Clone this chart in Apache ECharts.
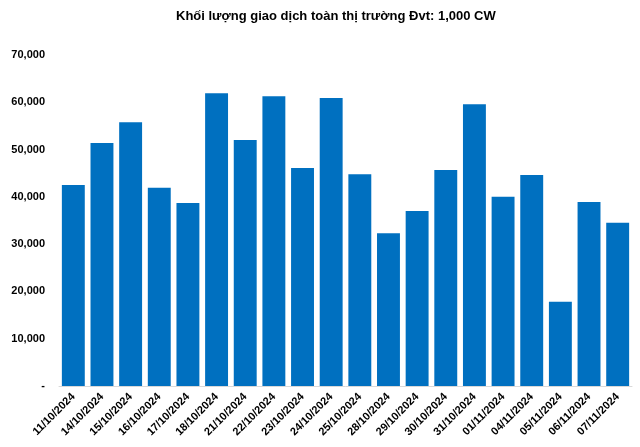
<!DOCTYPE html>
<html><head><meta charset="utf-8">
<script src="https://cdn.jsdelivr.net/npm/echarts@6/dist/echarts.min.js"></script>
<style>html,body{margin:0;padding:0;background:#fff}#c{width:640px;height:447px}</style>
</head><body><div id="c"></div>
<script>
const titleText = 'Khối lượng giao dịch toàn thị trường Đvt: 1,000 CW';
const categories = ['11/10/2024','14/10/2024','15/10/2024','16/10/2024','17/10/2024','18/10/2024','21/10/2024','22/10/2024','23/10/2024','24/10/2024','25/10/2024','28/10/2024','29/10/2024','30/10/2024','31/10/2024','01/11/2024','04/11/2024','05/11/2024','06/11/2024','07/11/2024'];
const volumes = [42500,51400,55800,41900,38700,61900,52000,61300,46100,60900,44800,32300,37000,45700,59600,40000,44600,17800,38900,34500];

const chart = echarts.init(document.getElementById('c'));
chart.setOption({
  animation:false,
  title:{text:titleText,left:171,top:5,textStyle:{fontFamily:'Liberation Sans, Arial',fontSize:13,fontWeight:'bold',color:'#000'}},
  grid:{left:59,right:8,top:55,bottom:61},
  xAxis:{type:'category',data:categories,
    axisLine:{lineStyle:{color:'#d9d9d9'}},axisTick:{show:false},
    axisLabel:{rotate:45,interval:0,margin:9,fontFamily:'Liberation Sans, Arial',fontSize:11,fontWeight:'bold',color:'#000'}},
  yAxis:{type:'value',min:0,max:70000,interval:10000,
    splitLine:{show:false},axisLine:{show:false},axisTick:{show:false},
    axisLabel:{margin:14,fontFamily:'Liberation Sans, Arial',fontSize:11,fontWeight:'bold',color:'#000',
      formatter:v=>v===0?'-':v.toLocaleString('en-US')}},
  series:[{type:'bar',data:volumes,barCategoryGap:'20%',itemStyle:{color:'#0070c0'}}]
});
</script></body></html>
